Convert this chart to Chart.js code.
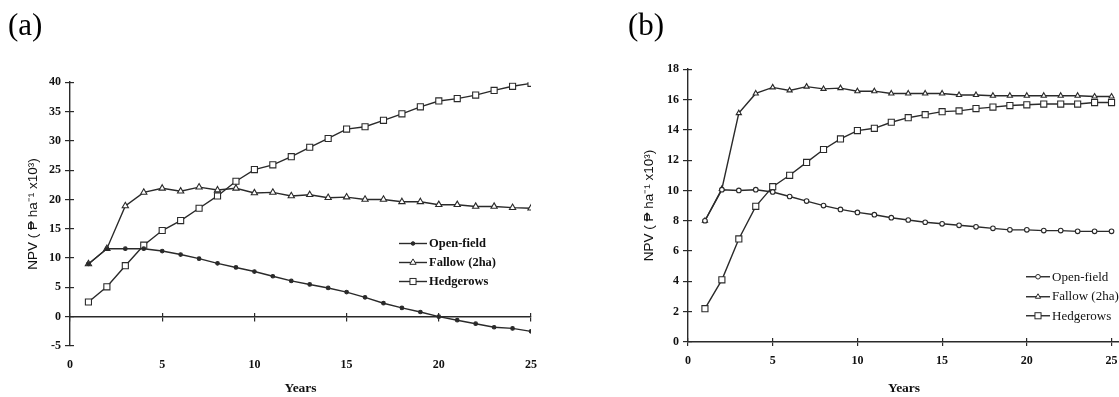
<!DOCTYPE html>
<html><head><meta charset="utf-8">
<script src="https://cdn.jsdelivr.net/npm/chart.js@4.4.1/dist/chart.umd.min.js"></script>
<style>
html,body{margin:0;padding:0;background:#fff;width:1119px;height:397px;overflow:hidden;position:relative;}
canvas{position:absolute;top:0;}
.legend{position:absolute;font-family:'Liberation Serif','Times New Roman',serif;color:#111;}
.legend .row{display:flex;align-items:center;white-space:nowrap;}
.legend svg{display:block;margin-right:2px;}
</style></head><body>
<canvas id="ca" width="560" height="397" style="left:0"></canvas>
<canvas id="cb" width="540" height="397" style="left:620px"></canvas>
<div id="lega" class="legend" style="left:399px;top:234px;font-size:12.5px;font-weight:bold"></div>
<div id="legb" class="legend" style="left:1026px;top:267px;font-size:13px"></div>
<script>
// ---- data ----
const years = [1,2,3,4,5,6,7,8,9,10,11,12,13,14,15,16,17,18,19,20,21,22,23,24,25];
const seriesNames = ['Open-field','Fallow (2ha)','Hedgerows'];

const openA   = [9.0,11.6,11.6,11.6,11.2,10.6,9.9,9.1,8.4,7.7,6.9,6.1,5.5,4.9,4.2,3.3,2.3,1.5,0.8,0.0,-0.6,-1.2,-1.8,-2.0,-2.5];
const fallowA = [9.0,11.6,18.9,21.2,21.9,21.4,22.1,21.6,21.9,21.1,21.2,20.6,20.8,20.3,20.4,20.0,20.0,19.6,19.6,19.1,19.1,18.8,18.8,18.6,18.5];
const hedgeA  = [2.5,5.1,8.7,12.2,14.7,16.4,18.5,20.6,23.1,25.1,25.9,27.3,28.9,30.4,32.0,32.4,33.5,34.6,35.8,36.8,37.2,37.8,38.6,39.3,39.8];

const openB   = [8.0,10.05,10.0,10.05,9.9,9.6,9.3,9.0,8.75,8.55,8.4,8.2,8.05,7.9,7.8,7.7,7.6,7.5,7.4,7.4,7.35,7.35,7.3,7.3,7.3];
const fallowB = [8.0,10.1,15.1,16.4,16.8,16.6,16.85,16.7,16.75,16.55,16.55,16.4,16.4,16.4,16.4,16.3,16.3,16.25,16.25,16.25,16.25,16.25,16.25,16.2,16.2];
const hedgeB  = [2.2,4.1,6.8,8.95,10.25,11.0,11.85,12.7,13.4,13.95,14.1,14.5,14.8,15.0,15.2,15.25,15.4,15.5,15.6,15.65,15.7,15.7,15.7,15.8,15.8];

const xTicks  = [0,5,10,15,20,25];
const yTicksA = [-5,0,5,10,15,20,25,30,35,40];
const yTicksB = [0,2,4,6,8,10,12,14,16,18];

const panelTitles = ['(a)','(b)'];
const xTitle = 'Years';
const yTitle = 'NPV ( \u20B1 ha\u207B\u00B9 x10\u00B3)';

// ---- styles ----
const INK = '#2a2a2a';
const serif = 'Liberation Serif';
const stylesA = [
  {pointStyle:'circle', r:1.8, fill:INK},
  {pointStyle:'triangle', r:3.6, fill:'#fff'},
  {pointStyle:'rect', r:4.3, fill:'#fff'}
];
const stylesB = [
  {pointStyle:'circle', r:2.3, fill:'#fff'},
  {pointStyle:'triangle', r:3.0, fill:'#fff'},
  {pointStyle:'rect', r:4.3, fill:'#fff'}
];

function toPts(arr){ return arr.map((v,i)=>({x:years[i], y:v})); }
function makeDatasets(arrs, styles){
  return arrs.map((arr,i)=>({
    label: seriesNames[i],
    data: toPts(arr),
    borderColor: INK,
    borderWidth: 1.4,
    pointStyle: styles[i].pointStyle,
    pointRadius: styles[i].r,
    pointBackgroundColor: styles[i].fill,
    pointBorderColor: INK,
    pointBorderWidth: 1.1,
    tension: 0,
    fill: false
  }));
}
const setTicks = (arr) => (s) => { s.ticks = arr.map(v => ({value:v})); };
const tickFont = {family: serif, size: 12, weight: 'bold'};
// inner half of the crossing tick marks
function innerTicks(min, max, pos, arr){
  return {type: 'linear', min: min, max: max, position: pos,
    afterBuildTicks: setTicks(arr),
    ticks: {display: false},
    grid: {drawOnChartArea: false, drawTicks: true, tickLength: -4, color: INK, lineWidth: 1.2},
    border: {display: false}};
}

// ---- panel (a) ----
new Chart(document.getElementById('ca'), {
  type: 'line',
  data: { datasets: makeDatasets([openA, fallowA, hedgeA], stylesA) },
  options: {
    responsive: false, animation: false, devicePixelRatio: 1,
    layout: {padding: {left: 8, right: 29, top: 0, bottom: 0}},
    plugins: {
      legend: {display: false}, tooltip: {enabled: false},
      title: {display: true, text: panelTitles[0], align: 'start', color: '#000',
        font: {family: serif, size: 31, weight: 'normal'}, padding: {top: 8, bottom: 37}}
    },
    scales: {
      x: {type: 'linear', min: 0, max: 25, position: {y: 0},
        afterBuildTicks: setTicks(xTicks),
        ticks: {display: false},
        grid: {drawOnChartArea: false, drawTicks: true, tickLength: 4, color: INK, lineWidth: 1.2},
        border: {color: INK, width: 1.4}},
      xIn: innerTicks(0, 25, {y: 0}, xTicks),
      x2: {type: 'linear', min: 0, max: 25, position: 'bottom',
        afterBuildTicks: setTicks(xTicks),
        ticks: {font: tickFont, color: '#111', padding: 12, maxRotation: 0},
        grid: {display: false, drawTicks: false},
        border: {display: false},
        title: {display: true, text: xTitle, color: '#111', font: {family: serif, size: 13.5, weight: 'bold'}, padding: {top: 0, bottom: 0}},
        afterFit: (s) => { s.height = 51; }},
      y: {type: 'linear', min: -5, max: 40, position: 'left',
        afterBuildTicks: setTicks(yTicksA),
        ticks: {font: tickFont, color: '#111', padding: 4},
        grid: {drawOnChartArea: false, drawTicks: true, tickLength: 5, color: INK, lineWidth: 1.2},
        border: {color: INK, width: 1.4},
        title: {display: true, text: yTitle, color: '#111', font: {family: 'Liberation Sans', size: 13.5}, padding: {top: 17, bottom: 0}},
        afterFit: (s) => { s.width = 62; }},
      yIn: innerTicks(-5, 40, {x: 0}, yTicksA)
    }
  }
});

// ---- panel (b) ----
new Chart(document.getElementById('cb'), {
  type: 'line',
  data: { datasets: makeDatasets([openB, fallowB, hedgeB], stylesB) },
  options: {
    responsive: false, animation: false, devicePixelRatio: 1,
    layout: {padding: {left: 8, right: 40, top: 0, bottom: 0}},
    plugins: {
      legend: {display: false}, tooltip: {enabled: false},
      title: {display: true, text: panelTitles[1], align: 'start', color: '#000',
        font: {family: serif, size: 31, weight: 'normal'}, padding: {top: 8, bottom: 24}}
    },
    scales: {
      x: {type: 'linear', min: 0, max: 25.5, position: 'bottom',
        afterBuildTicks: setTicks(xTicks),
        ticks: {font: tickFont, color: '#111', padding: 8, maxRotation: 0},
        grid: {drawOnChartArea: false, drawTicks: true, tickLength: 4, color: INK, lineWidth: 1.2},
        border: {color: INK, width: 1.4},
        title: {display: true, text: xTitle, color: '#111', font: {family: serif, size: 13.5, weight: 'bold'}, padding: {top: 0, bottom: 0}},
        afterFit: (s) => { s.height = 55; }},
      xIn: innerTicks(0, 25.5, {y: 0}, xTicks),
      y: {type: 'linear', min: 0, max: 18, position: 'left',
        afterBuildTicks: setTicks(yTicksB),
        ticks: {font: tickFont, color: '#111', padding: 4},
        grid: {drawOnChartArea: false, drawTicks: true, tickLength: 5, color: INK, lineWidth: 1.2},
        border: {color: INK, width: 1.4},
        title: {display: true, text: yTitle, color: '#111', font: {family: 'Liberation Sans', size: 13.5}, padding: {top: 13, bottom: 0}},
        afterFit: (s) => { s.width = 60; }},
      yIn: innerTicks(0, 18, {x: 0}, yTicksB)
    }
  }
});

// ---- HTML legends ----
function markerSvg(st, w, h){
  const cx = w/2, cy = h/2;
  let m = '';
  if (st.pointStyle === 'circle') m = `<circle cx="${cx}" cy="${cy}" r="${st.r}" fill="${st.fill}" stroke="${INK}" stroke-width="1"/>`;
  else if (st.pointStyle === 'triangle') {
    const r = st.r;
    m = `<polygon points="${cx},${cy-r} ${cx-r*0.87},${cy+r*0.5} ${cx+r*0.87},${cy+r*0.5}" fill="${st.fill}" stroke="${INK}" stroke-width="1"/>`;
  } else {
    const s = st.r*0.707;
    m = `<rect x="${cx-s}" y="${cy-s}" width="${2*s}" height="${2*s}" fill="${st.fill}" stroke="${INK}" stroke-width="1"/>`;
  }
  return `<svg width="${w}" height="${h}"><line x1="0" y1="${cy}" x2="${w}" y2="${cy}" stroke="${INK}" stroke-width="1.4"/>${m}</svg>`;
}
function buildLegend(id, styles, w, rowH){
  const el = document.getElementById(id);
  el.innerHTML = seriesNames.map((n,i)=>`<div class="row" style="height:${rowH}px">${markerSvg(styles[i], w, rowH)}<span>${n}</span></div>`).join('');
}
buildLegend('lega', stylesA, 28, 19);
buildLegend('legb', stylesB, 24, 19.5);
</script>
</body></html>
